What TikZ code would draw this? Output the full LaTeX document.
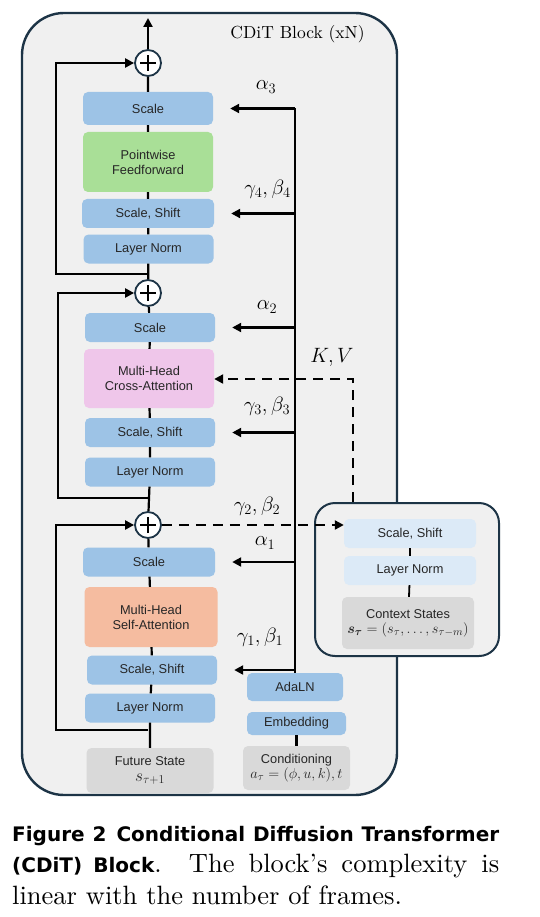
\documentclass[tikz,border=0pt]{standalone}
\usepackage{amsmath}
\usepackage{fontspec}
\setsansfont{Liberation Sans}
\newfontfamily\capserif{lmroman10-regular.otf}
\newfontfamily\capsans{DejaVu Sans}
\usepackage{xcolor}
\usepackage{tikz}
\usetikzlibrary{arrows.meta,calc,positioning}
\definecolor{cnavy}{HTML}{1D3446}
\definecolor{cbg}{HTML}{F0F0F0}
\definecolor{cblue}{HTML}{9DC3E6}
\definecolor{clight}{HTML}{DCEAF7}
\definecolor{cgreen}{HTML}{A9DF97}
\definecolor{cpink}{HTML}{EFC6EA}
\definecolor{csalmon}{HTML}{F5BCA0}
\definecolor{cgray}{HTML}{D9D9D9}
\newcommand{\capsf}[1]{{\capsans\bfseries\fontsize{20}{31.5}\selectfont #1}}
\newcommand{\boxmath}[2][15.5]{{\fontsize{#1}{17}\selectfont$#2$}}
\tikzset{
  >={Triangle[length=9pt,width=9pt]},
  couter/.style={draw=cnavy, fill=cbg, line width=2.4pt, rounded corners=42pt},
  cctx/.style={draw=cnavy, fill=cbg, line width=2pt, rounded corners=20pt},
  cbox/.style={rounded corners=5pt, fill=cblue, text=black!85, align=center,
               minimum width=130pt, minimum height=29pt, inner sep=2pt,
               font=\sffamily\fontsize{12.8}{15}\selectfont},
  cplus/.style={circle, draw=cnavy, fill=white, line width=1.8pt,
                minimum size=26pt, inner sep=0pt,
                path picture={\draw[black, line width=2.2pt]
                  (path picture bounding box.center) ++(-8pt,0pt) -- ++(16pt,0pt)
                  ++(-8pt,-8pt) -- ++(0pt,16pt);}},
  cflow/.style={black, line width=2.2pt},
  cdash/.style={black, line width=2.2pt, dash pattern=on 10pt off 7pt},
  clbl/.style={font=\fontsize{22}{24}\selectfont},
  ctitle/.style={font=\capserif\fontsize{17.5}{20}\selectfont},
  ccap/.style={text width=487pt, align=justify, inner sep=0pt,
               font=\capserif\fontsize{26.5}{31.5}\selectfont},
}
\begin{document}
\begin{tikzpicture}[x=1pt,y=-1pt]
  \useasboundingbox (0,0) rectangle (540,917);

  % outer block
  \node[couter, minimum width=375pt, minimum height=782pt] (blk) at (209.5,404) {};
  \node[ctitle] (ttl) at (297.5,34) {CDiT Block (xN)};

  % main column, bottom to top
  \node[cbox, fill=cgray, minimum width=127pt, minimum height=45pt] (F) at (150,770.5)
       {Future State\\[1pt]\boxmath[17]{s_{\tau+1}}};
  \node[cbox] (LN1) at (150,708) {Layer Norm};
  \node[cbox] (SS1) at (152,670) {Scale, Shift};
  \node[cbox, fill=csalmon, minimum width=133pt, minimum height=60pt] (SA) at (151,617)
       {Multi-Head\\Self-Attention};
  \node[cbox, minimum width=132pt] (S1) at (149,562) {Scale};
  \node[cplus] (P1) at (148,525) {};
  \node[cbox] (LN3) at (150,472) {Layer Norm};
  \node[cbox] (SS3) at (150,432.5) {Scale, Shift};
  \node[cbox, fill=cpink, minimum height=59pt] (CA) at (149,378.5)
       {Multi-Head\\Cross-Attention};
  \node[cbox] (S2) at (150,327.5) {Scale};
  \node[cplus] (P2) at (148,293) {};
  \node[cbox] (LN4) at (148.5,249) {Layer Norm};
  \node[cbox, minimum width=132pt] (SS4) at (148,213.5) {Scale, Shift};
  \node[cbox, fill=cgreen, minimum height=60pt] (FF) at (148,162)
       {Pointwise\\Feedforward};
  \node[cbox, minimum height=33pt] (S3) at (148,108.5) {Scale};
  \node[cplus] (P3) at (148,63) {};
  \coordinate (out) at (148,18);

  % conditioning column
  \node[cbox, fill=cgray, minimum width=107pt, minimum height=44pt] (C) at (296.5,768)
       {Conditioning\\[0pt]\boxmath{a_\tau=(\phi,u,k),t}};
  \node[cbox, minimum width=99pt, minimum height=23pt] (E) at (296.5,723.5) {Embedding};
  \node[cbox, minimum width=96pt, minimum height=28pt] (A) at (295,687) {AdaLN};

  % context block
  \node[cctx, minimum width=184pt, minimum height=153pt] (ctx) at (407,579.5) {};
  \node[cbox, fill=clight, minimum width=132pt] (CSS) at (410,533.5) {Scale, Shift};
  \node[cbox, fill=clight, minimum width=132pt] (CLN) at (410,570.5) {Layer Norm};
  \node[cbox, fill=cgray, minimum width=132pt, minimum height=52pt] (CCS) at (408,623)
       {Context States\\[0pt]\boxmath{\boldsymbol{s}_{\boldsymbol{\tau}}=(s_\tau,\ldots,s_{\tau-m})}};

  % main flow
  \draw[cflow] (F) -- (LN1) -- (SS1) -- (SA) -- (S1) -- (P1) -- (LN3) -- (SS3)
    -- (CA) -- (S2) -- (P2) -- (LN4) -- (SS4) -- (FF) -- (S3) -- (P3);
  \draw[cflow,->] (P3) -- (out);
  \draw[cflow] (C) -- (E);
  \draw[cflow, line width=1.8pt] (CSS) -- (CLN) -- (CCS);

  % residual connections
  \coordinate (r3) at (148,274);
  \coordinate (r2) at (148,498);
  \coordinate (r1) at (148,730);
  \draw[cflow,->] (r3) -- ++(-92,0) |- (P3);
  \draw[cflow,->] (r2) -- ++(-90,0) |- (P2);
  \draw[cflow,->] (r1) -- ++(-92,0) |- (P1);

  % modulation from AdaLN
  \draw[cflow] (S3 -| A) -- (A);
  \foreach \b in {S3,SS4,S2,SS3,S1,SS1}
    \draw[cflow,->] (\b -| A) -- ([xshift=17pt]\b.east);

  % context paths
  \coordinate (kv) at (353,379);
  \draw[cdash,->] (kv |- ctx.north) -- (kv) -- (kv -| CA.east);
  \draw[cdash,->] (P1) -- (P1 -| CSS.west);

  % labels
  \node[clbl] at (266,87) {$\alpha_3$};
  \node[clbl] at (267.5,189) {$\gamma_4,\beta_4$};
  \node[clbl] at (267,307) {$\alpha_2$};
  \node[clbl] at (332,357) {$K,V$};
  \node[clbl] at (267,406) {$\gamma_3,\beta_3$};
  \node[clbl] at (257,506) {$\gamma_2,\beta_2$};
  \node[clbl] at (265,543) {$\alpha_1$};
  \node[clbl] at (260,637) {$\gamma_1,\beta_1$};

  % caption
  \node[ccap, anchor=north west] (cap) at (12,826)
       {\capsf{Figure 2\hspace{10pt}Conditional Diffusion Transformer}\linebreak
        \capsf{(CDiT) Block}. The block’s complexity is\linebreak
        linear with the number of frames.};
\end{tikzpicture}
\end{document}
